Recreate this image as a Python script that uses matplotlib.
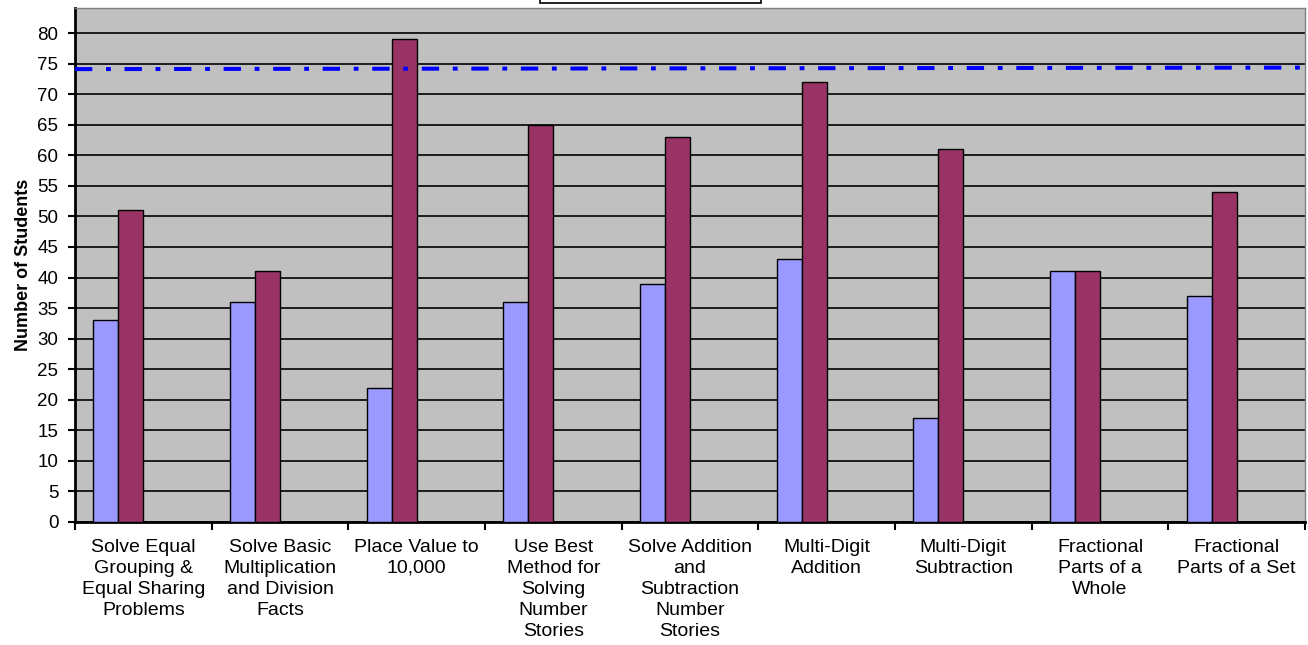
import matplotlib.pyplot as plt
import matplotlib.patches as patches
import numpy as np

# Categories and values
categories = [
    "Solve Equal\nGrouping &\nEqual Sharing\nProblems",
    "Solve Basic\nMultiplication\nand Division\nFacts",
    "Place Value to\n10,000",
    "Use Best\nMethod for\nSolving\nNumber\nStories",
    "Solve Addition\nand\nSubtraction\nNumber\nStories",
    "Multi-Digit\nAddition",
    "Multi-Digit\nSubtraction",
    "Fractional\nParts of a\nWhole",
    "Fractional\nParts of a Set",
]
series_a = [33, 36, 22, 36, 39, 43, 17, 41, 37]
series_b = [51, 41, 79, 65, 63, 72, 61, 41, 54]
target_line = [74.1, 74.35]

plt.rcParams['font.family'] = ['Liberation Sans', 'DejaVu Sans']

fig = plt.figure(figsize=(13.08, 6.45), dpi=100)
ax = fig.add_axes([75 / 1308, 1 - 522 / 645, 1230 / 1308, 514 / 645])
ax.set_facecolor('#C0C0C0')

x = np.arange(len(categories))
w = 0.183
ax.bar(x - 1.5 * w, series_a, w, color='#9999FF', edgecolor='black', linewidth=1.0, zorder=3)
ax.bar(x - 0.5 * w, series_b, w, color='#993366', edgecolor='black', linewidth=1.0, zorder=3)

line, = ax.plot([-0.5, len(categories) - 0.5], target_line, color='#0000FF',
                linewidth=2.9, zorder=4, solid_capstyle='butt', dash_capstyle='butt')
line.set_dashes([4.3, 3.4, 1.2, 3.4])

ax.set_xlim(-0.5, len(categories) - 0.5)
ax.set_ylim(0, 84.1)
ax.set_yticks(np.arange(0, 85, 5))
ax.tick_params(axis='y', labelsize=13.5, length=5, width=1.5, direction='out', pad=7)
ax.yaxis.grid(True, color='black', linewidth=1.2, zorder=1)
ax.set_axisbelow(True)

ax.set_xticks(x)
ax.set_xticklabels(categories, fontsize=14, linespacing=1.32)
ax.tick_params(axis='x', length=0, pad=12)
ax.set_xticks(np.arange(-0.5, len(categories), 1), minor=True)
ax.tick_params(axis='x', which='minor', length=6, width=1.5, direction='out')

for side in ['left', 'bottom']:
    ax.spines[side].set_linewidth(2)
    ax.spines[side].set_color('black')
for side in ['top', 'right']:
    ax.spines[side].set_linewidth(1)
    ax.spines[side].set_color('#808080')

ax.set_ylabel('Number of Students', fontsize=13, fontweight='bold', labelpad=4)

# legend box cut off at the top of the image
fig.patches.append(patches.Rectangle((540 / 1308, 1 - 3 / 645), 221 / 1308, 0.1,
                                     transform=fig.transFigure, facecolor='white',
                                     edgecolor='black', linewidth=1.2, clip_on=False))

fig.savefig('out.png', dpi=100)
